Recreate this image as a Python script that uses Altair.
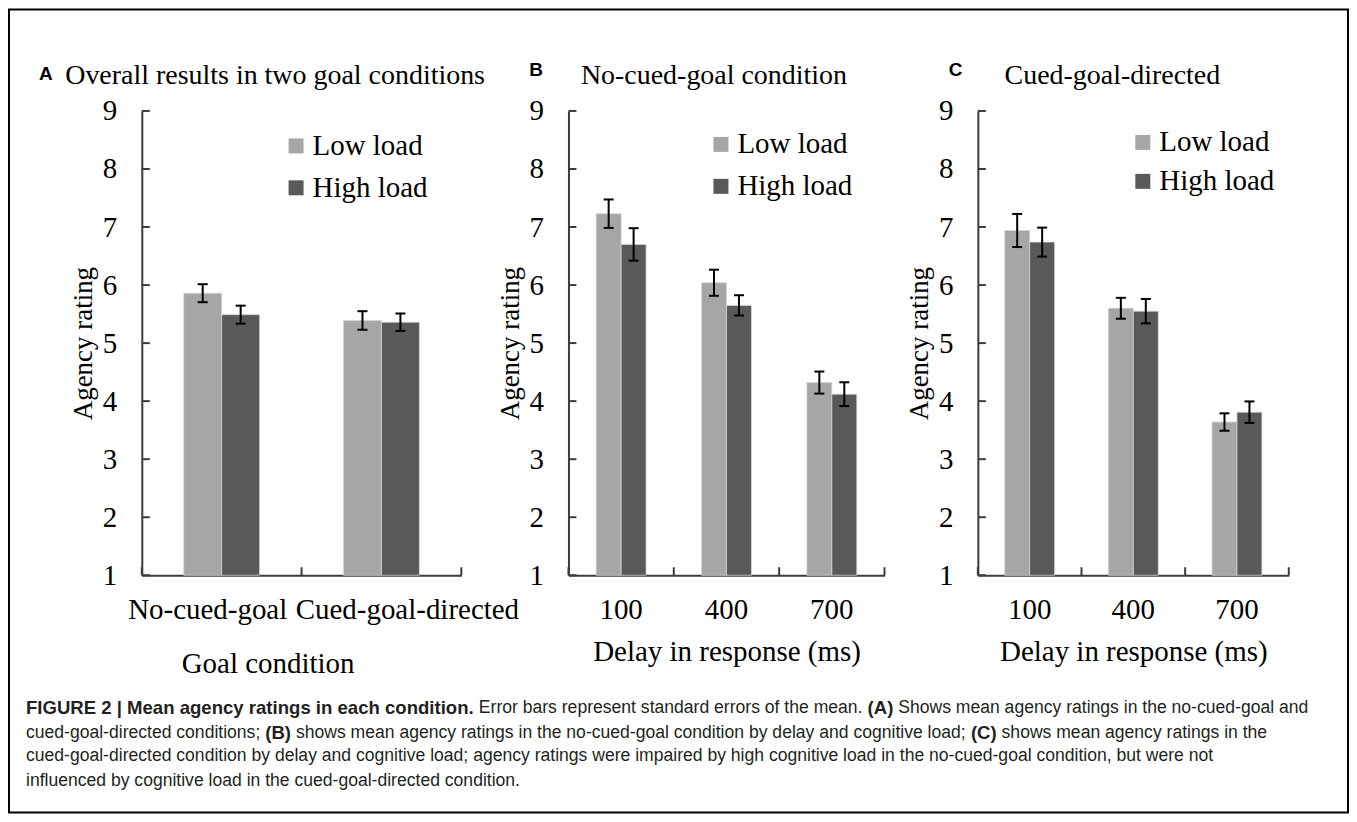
import altair as alt
import pandas as pd

# ---------------- data ----------------
loads = ["Low load", "High load"]
load_colors = ["#a6a6a6", "#595959"]

goal_conditions = ["No-cued-goal", "Cued-goal-directed"]
a_low = [5.86, 5.39]
a_high = [5.49, 5.36]
a_low_se = [0.155, 0.16]
a_high_se = [0.155, 0.15]

delays = ["100", "400", "700"]
b_low = [7.23, 6.04, 4.32]
b_high = [6.70, 5.65, 4.12]
b_low_se = [0.245, 0.225, 0.19]
b_high_se = [0.28, 0.175, 0.205]

c_low = [6.94, 5.60, 3.64]
c_high = [6.74, 5.55, 3.81]
c_low_se = [0.285, 0.18, 0.15]
c_high_se = [0.25, 0.21, 0.185]

y_ticks = [1, 2, 3, 4, 5, 6, 7, 8, 9]

panel_letters = ["A", "B", "C"]
panel_titles = ["Overall results in two goal conditions", "No-cued-goal condition", "Cued-goal-directed"]
x_titles = ["Goal condition", "Delay in response (ms)", "Delay in response (ms)"]
y_title = "Agency rating"

caption_lines = [
    [("FIGURE 2 | Mean agency ratings in each condition.", True),
     ("Error bars represent standard errors of the mean.", False),
     ("(A)", True),
     ("Shows mean agency ratings in the no-cued-goal and", False)],
    [("cued-goal-directed conditions;", False),
     ("(B)", True),
     ("shows mean agency ratings in the no-cued-goal condition by delay and cognitive load;", False),
     ("(C)", True),
     ("shows mean agency ratings in the", False)],
    [("cued-goal-directed condition by delay and cognitive load; agency ratings were impaired by high cognitive load in the no-cued-goal condition, but were not", False)],
    [("influenced by cognitive load in the cued-goal-directed condition.", False)],
]

# ---------------- layout ----------------
SERIF = "Liberation Serif"
SANS = "Liberation Sans"
W, H = 1341, 804
Y_BOTTOM, Y_TOP = 566.5, 101.5
AX = "#3c3c3c"
FS = 29
CAP_FS = 17.6
CAP_FS_BOLD = 18.6

x_ranges = [[133, 453], [560.3, 876.8], [970.3, 1281.7]]
bar_widths = [38, 25, 25]
legend_pos = [(273, 122), (698.5, 120.5), (1121, 118.5)]
legend_rowpad = [12, 12, 9]
title_x = [266.5, 706, 1105]
title_y = 75
letter_pos = [(37, 65), (528, 61), (948, 61)]
caption_y = [699, 724, 748, 773]
caption_x0 = 17

# approximate advance widths (per 1000 em) of Liberation Sans regular / bold, used to chain caption pieces
_REG = {" ": 278, "-": 333, ";": 278, ",": 278, ".": 278, "(": 333, ")": 333, "|": 260}
_REG.update({c: 556 for c in "abdeghnopqu0123456789"})
_REG.update({c: 500 for c in "cksvxyz"})
_REG.update({"f": 278, "t": 278, "i": 222, "j": 222, "l": 222, "m": 833, "r": 333, "w": 722})
_REG.update({"A": 667, "B": 667, "C": 722, "E": 667, "F": 611, "G": 778, "I": 278, "M": 833, "R": 722, "S": 667, "U": 722})
_BOLD = {" ": 278, "-": 333, ";": 333, ",": 278, ".": 278, "(": 333, ")": 333, "|": 280}
_BOLD.update({c: 611 for c in "bdghnopqu"})
_BOLD.update({c: 556 for c in "aceksvxyz0123456789"})
_BOLD.update({"f": 333, "t": 333, "i": 278, "j": 278, "l": 278, "m": 889, "r": 389, "w": 778})
_BOLD.update({"A": 722, "B": 722, "C": 722, "E": 667, "F": 611, "G": 778, "I": 278, "M": 833, "R": 722, "S": 667, "U": 722})


def text_width(s, bold, size):
    table = _BOLD if bold else _REG
    return sum(table.get(ch, 556) for ch in s) * size / 1000.0


dummy = pd.DataFrame({"d": [0]})


def make_df(cats, low, high, low_se, high_se):
    rows = []
    for i, c in enumerate(cats):
        rows.append(dict(cat=c, load=loads[0], mean=low[i], lo=low[i] - low_se[i], hi=low[i] + low_se[i]))
        rows.append(dict(cat=c, load=loads[1], mean=high[i], lo=high[i] - high_se[i], hi=high[i] + high_se[i]))
    return pd.DataFrame(rows)


def panel(df, cats, xr, bw, x_title, lpos, rowpad, extra_axis):
    xs = alt.Scale(domain=cats, range=xr, paddingInner=0, paddingOuter=0)
    ys = alt.Scale(domain=[1, 9], range=[Y_BOTTOM, Y_TOP], nice=False, zero=False, clamp=True)
    band = (xr[1] - xr[0]) / len(cats)
    xaxis = alt.Axis(orient="bottom", offset=-(H - Y_BOTTOM), ticks=False, tickSize=0,
                     labelPadding=20, labelAngle=0, labelLimit=500, labelOverlap=False,
                     title=x_title, titlePadding=13, **extra_axis)
    yaxis = alt.Axis(orient="left", offset=-xr[0], ticks=False, tickSize=0, labelPadding=25,
                     values=y_ticks, title=y_title, titlePadding=5, titleFontSize=27)

    def X(**kw):
        return alt.X("cat:N", scale=xs, sort=cats, axis=xaxis, **kw)

    xo = alt.XOffset("load:N", sort=loads,
                     scale=alt.Scale(domain=loads, range=[band / 2 - bw, band / 2 + bw],
                                     paddingOuter=0, paddingInner=0))

    bars = alt.Chart(df).mark_bar(stroke="#d6d6d6", strokeWidth=0.8).encode(
        x=X(), xOffset=xo,
        y=alt.Y("mean:Q", scale=ys, axis=yaxis),
        color=alt.Color("load:N", sort=loads, scale=alt.Scale(domain=loads, range=load_colors),
                        legend=alt.Legend(title=None, orient="none", legendX=lpos[0], legendY=lpos[1],
                                          direction="vertical", symbolType="square", symbolSize=225,
                                          symbolStrokeWidth=0, symbolOpacity=1, labelFont=SERIF,
                                          labelFontSize=FS, labelColor="black", labelOffset=2,
                                          rowPadding=rowpad, padding=0)),
    )
    err = alt.Chart(df).mark_rule(color="black", strokeWidth=2).encode(
        x=X(), xOffset=xo, y=alt.Y("lo:Q", scale=ys, axis=yaxis), y2="hi:Q")
    cap_lo = alt.Chart(df).mark_tick(color="black", thickness=2, size=10, orient="horizontal", opacity=1).encode(
        x=X(), xOffset=xo, y=alt.Y("lo:Q", scale=ys, axis=yaxis))
    cap_hi = alt.Chart(df).mark_tick(color="black", thickness=2, size=10, orient="horizontal", opacity=1).encode(
        x=X(), xOffset=xo, y=alt.Y("hi:Q", scale=ys, axis=yaxis))
    ytk = alt.Chart(pd.DataFrame({"t": y_ticks})).mark_rule(color=AX, strokeWidth=2).encode(
        y=alt.Y("t:Q", scale=ys, axis=yaxis), x=alt.value(xr[0]), x2=alt.value(xr[0] + 8))
    xtk = alt.Chart(pd.DataFrame({"cat": cats})).mark_rule(color=AX, strokeWidth=2).encode(
        x=X(bandPosition=0), y=alt.value(Y_BOTTOM - 8), y2=alt.value(Y_BOTTOM))
    xtk_end = alt.Chart(pd.DataFrame({"cat": cats[-1:]})).mark_rule(color=AX, strokeWidth=2).encode(
        x=X(bandPosition=1), y=alt.value(Y_BOTTOM - 8), y2=alt.value(Y_BOTTOM))
    return alt.layer(bars, err, cap_lo, cap_hi, ytk, xtk, xtk_end)


def text(t, x, y, size, font, weight="normal", align="left", baseline="alphabetic", color="black"):
    return alt.Chart(dummy).mark_text(text=t, font=font, fontSize=size, fontWeight=weight, align=align,
                                      baseline=baseline, color=color).encode(
        x=alt.value(x), y=alt.value(y))


dfA = make_df(goal_conditions, a_low, a_high, a_low_se, a_high_se)
dfB = make_df(delays, b_low, b_high, b_low_se, b_high_se)
dfC = make_df(delays, c_low, c_high, c_low_se, c_high_se)

a_extra = dict(
    labelOffset={"condition": {"test": "datum.value === 'No-cued-goal'", "value": -14}, "value": 26},
    titleX=259, titleY=88, titleBaseline="middle", titleAlign="center",
)

pA = panel(dfA, goal_conditions, x_ranges[0], bar_widths[0], x_titles[0], legend_pos[0], legend_rowpad[0], a_extra)
pB = panel(dfB, delays, x_ranges[1], bar_widths[1], x_titles[1], legend_pos[1], legend_rowpad[1], {})
pC = panel(dfC, delays, x_ranges[2], bar_widths[2], x_titles[2], legend_pos[2], legend_rowpad[2], {})

texts = []
for i in range(3):
    texts.append(text(panel_titles[i], title_x[i], title_y, 28, SERIF, align="center"))
    texts.append(text(panel_letters[i], letter_pos[i][0], letter_pos[i][1], 19, SANS, weight="bold",
                      align="center", baseline="middle"))
space = text_width(" ", False, CAP_FS)
for li, line in enumerate(caption_lines):
    x = caption_x0
    for seg, bold in line:
        size = CAP_FS_BOLD if bold else CAP_FS
        texts.append(text(seg, x, caption_y[li], size, SANS,
                          weight="bold" if bold else "normal", baseline="middle", color="#231f20"))
        x += text_width(seg, bold, size) + space

chart = alt.layer(pA, pB, pC, *texts).resolve_scale(
    x="independent", y="independent", color="independent", xOffset="independent"
).properties(
    width=W, height=H, padding=1, autosize=alt.AutoSizeParams(type="none")
).configure_view(
    stroke="black", strokeWidth=2
).configure_axis(
    labelFont=SERIF, labelFontSize=FS, labelColor="black", titleFont=SERIF, titleFontSize=FS,
    titleFontWeight="normal", titleColor="black", domainColor=AX, domainWidth=2, grid=False
)

chart.save("out.html", embed_options={"renderer": "svg", "actions": False})
